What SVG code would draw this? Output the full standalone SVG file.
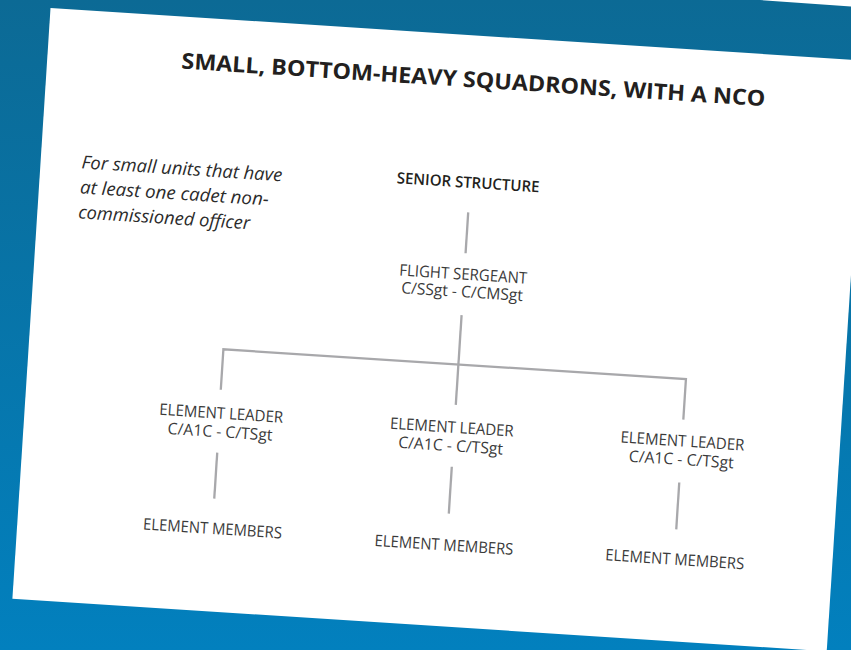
<svg xmlns="http://www.w3.org/2000/svg" width="851" height="650" viewBox="0 0 851 650">
  <defs>
    <linearGradient id="bg" x1="0" y1="0" x2="0" y2="1">
      <stop offset="0" stop-color="#0c6a95"/>
      <stop offset="1" stop-color="#0280be"/>
    </linearGradient>
  </defs>
  <style>
    .title { font-family: "Open Sans", "Liberation Sans", sans-serif; font-weight: 700; font-size: 22px; fill: #231f20; }
    .note { font-family: "Open Sans", "Liberation Sans", sans-serif; font-style: italic; font-size: 18px; fill: #2b2b2b; }
    .head { font-family: "Open Sans", "Liberation Sans", sans-serif; font-weight: 600; font-size: 15.5px; fill: #231f20; }
    .lbl { font-family: "Open Sans", "Liberation Sans", sans-serif; font-weight: 400; font-size: 16px; fill: #3a3a3a; }
    .conn { stroke: #a8a8ab; stroke-width: 2.3; fill: none; }
  </style>
  <rect x="0" y="0" width="851" height="650" fill="url(#bg)"/>
  <polygon points="760,0 851,0 851,6.5" fill="#ffffff"/>
  <g transform="translate(50.5,8) rotate(3.69)">
    <rect x="0" y="0" width="816" height="592" fill="#ffffff"/>
    <text class="title" x="426.7" y="52" text-anchor="middle" textLength="585" lengthAdjust="spacingAndGlyphs">SMALL, BOTTOM-HEAVY SQUADRONS, WITH A NCO</text>
    <g id="note">
      <text class="note" x="41" y="158" textLength="201" lengthAdjust="spacingAndGlyphs">For small units that have</text>
      <text class="note" x="41" y="183" textLength="189" lengthAdjust="spacingAndGlyphs">at least one cadet non-</text>
      <text class="note" x="41" y="208" textLength="172" lengthAdjust="spacingAndGlyphs">commissioned officer</text>
    </g>
    <g id="connectors">
      <line class="conn" x1="430" y1="177" x2="430" y2="218"/>
      <line class="conn" x1="430" y1="280" x2="430" y2="370"/>
      <polyline class="conn" points="194.5,370 194.5,329.5 658,329.5 658,370"/>
      <line class="conn" x1="195" y1="433" x2="195" y2="479"/>
      <line class="conn" x1="430" y1="432" x2="430" y2="479"/>
      <line class="conn" x1="658" y1="433" x2="658" y2="480"/>
    </g>
    <g id="senior">
      <text class="head" x="428" y="152.5" text-anchor="middle" textLength="143" lengthAdjust="spacingAndGlyphs">SENIOR STRUCTURE</text>
    </g>
    <g id="flight-sergeant">
      <text class="lbl" x="429" y="244.5" text-anchor="middle" textLength="128" lengthAdjust="spacingAndGlyphs">FLIGHT SERGEANT</text>
      <text class="lbl" x="429" y="262" text-anchor="middle" textLength="122" lengthAdjust="spacingAndGlyphs">C/SSgt - C/CMSgt</text>
    </g>
    <g id="leader-1">
      <text class="lbl" x="196.5" y="399" text-anchor="middle" textLength="124" lengthAdjust="spacingAndGlyphs">ELEMENT LEADER</text>
      <text class="lbl" x="196.5" y="417.5" text-anchor="middle" textLength="105" lengthAdjust="spacingAndGlyphs">C/A1C - C/TSgt</text>
    </g>
    <g id="leader-2">
      <text class="lbl" x="427.5" y="398" text-anchor="middle" textLength="124" lengthAdjust="spacingAndGlyphs">ELEMENT LEADER</text>
      <text class="lbl" x="427.5" y="416.5" text-anchor="middle" textLength="105" lengthAdjust="spacingAndGlyphs">C/A1C - C/TSgt</text>
    </g>
    <g id="leader-3">
      <text class="lbl" x="658.5" y="397" text-anchor="middle" textLength="124" lengthAdjust="spacingAndGlyphs">ELEMENT LEADER</text>
      <text class="lbl" x="658.5" y="415.5" text-anchor="middle" textLength="105" lengthAdjust="spacingAndGlyphs">C/A1C - C/TSgt</text>
    </g>
    <g id="members-1">
      <text class="lbl" x="195.2" y="514.5" text-anchor="middle" textLength="139" lengthAdjust="spacingAndGlyphs">ELEMENT MEMBERS</text>
    </g>
    <g id="members-2">
      <text class="lbl" x="427.2" y="516" text-anchor="middle" textLength="139" lengthAdjust="spacingAndGlyphs">ELEMENT MEMBERS</text>
    </g>
    <g id="members-3">
      <text class="lbl" x="658.5" y="515.5" text-anchor="middle" textLength="139" lengthAdjust="spacingAndGlyphs">ELEMENT MEMBERS</text>
    </g>
  </g>
</svg>
